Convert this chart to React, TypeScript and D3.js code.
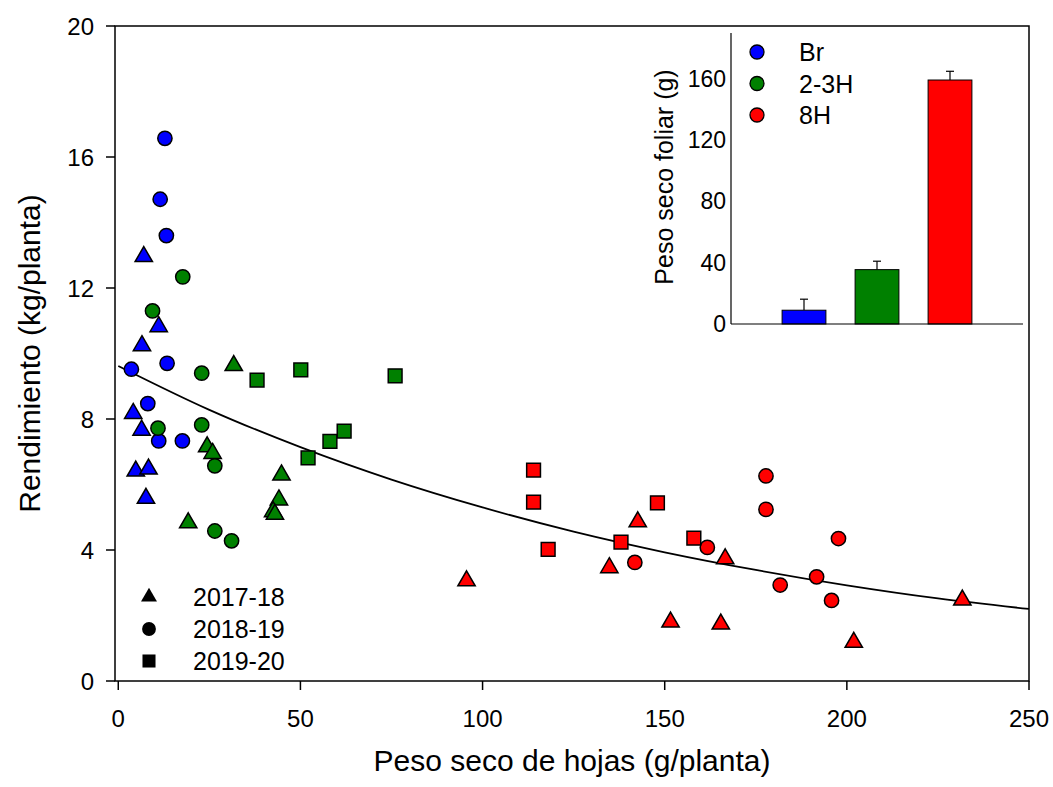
import React, { useEffect, useRef } from 'react';
import * as d3 from 'd3';

// scatter data: [peso seco de hojas, rendimiento]
const brTri = [[7.0, 12.96], [11.1, 10.82], [6.5, 10.24], [4.1, 8.17], [6.4, 7.66], [4.8, 6.41], [8.3, 6.47], [7.6, 5.58]];
const brCirc = [[12.8, 16.57], [11.5, 14.71], [13.2, 13.6], [13.4, 9.7], [3.6, 9.52], [8.1, 8.47], [11.1, 7.33], [17.6, 7.33]];
const h23Tri = [[31.7, 9.63], [24.4, 7.15], [25.9, 6.95], [44.8, 6.29], [44.1, 5.53], [42.5, 5.17], [43.0, 5.09], [19.2, 4.83]];
const h23Circ = [[17.7, 12.34], [9.4, 11.3], [22.9, 9.4], [10.9, 7.72], [22.9, 7.82], [26.5, 6.57], [26.5, 4.58], [31.1, 4.28]];
const h23Sq = [[38.1, 9.19], [50.1, 9.5], [76.0, 9.32], [62.0, 7.63], [58.1, 7.32], [52.1, 6.81]];
const h8Tri = [[95.6, 3.06], [134.8, 3.46], [142.6, 4.86], [151.6, 1.8], [165.4, 1.74], [166.6, 3.73], [201.9, 1.18], [231.7, 2.47]];
const h8Circ = [[141.8, 3.62], [161.7, 4.08], [177.8, 6.26], [177.8, 5.24], [181.7, 2.93], [191.7, 3.18], [195.8, 2.46], [197.7, 4.35]];
const h8Sq = [[114, 6.44], [114, 5.46], [118, 4.02], [138, 4.24], [148, 5.44], [158, 4.36]];

// fitted curve
const fitX = [0, 25, 50, 75, 100, 125, 150, 175, 200, 225, 250];
const fitY = [9.62, 8.28, 7.14, 6.15, 5.3, 4.56, 3.93, 3.39, 2.92, 2.52, 2.2];

const xTicks = [0, 50, 100, 150, 200, 250];
const yTicks = [0, 4, 8, 12, 16, 20];

// inset bars
const groups = ['Br', '2-3H', '8H'];
const barMeans = [9, 35.5, 159.3];
const barErr = [7.2, 5.5, 5.7];
const insetTicks = [0, 40, 80, 120, 160];
const years = ['2017-18', '2018-19', '2019-20'];

const COLORS: Record<string, string> = { Br: '#0000ff', '2-3H': '#008000', '8H': '#ff0000' };

const App: React.FC = () => {
  const svgRef = useRef<SVGSVGElement | null>(null);

  useEffect(() => {
    if (!svgRef.current) return;
    const svg = d3.select(svgRef.current);
    svg.selectAll('*').remove();
    const font = 'Liberation Sans, Arial, sans-serif';

    const x = d3.scaleLinear().domain([-0.9, 250]).range([115, 1029]);
    const y = d3.scaleLinear().domain([0, 20]).range([681, 26]);

    // frame
    svg.append('rect')
      .attr('x', x(-0.9)).attr('y', y(20))
      .attr('width', x(250) - x(-0.9)).attr('height', y(0) - y(20))
      .attr('fill', 'none').attr('stroke', '#000').attr('stroke-width', 1.5);

    // y ticks
    yTicks.forEach(t => {
      svg.append('line').attr('x1', 106).attr('x2', 115).attr('y1', y(t)).attr('y2', y(t))
        .attr('stroke', '#000').attr('stroke-width', 1.5);
      svg.append('text').attr('x', 94).attr('y', y(t) + 8.5)
        .attr('text-anchor', 'end').attr('font-family', font).attr('font-size', 24).text(t);
    });
    // x ticks
    xTicks.forEach(t => {
      svg.append('line').attr('x1', x(t)).attr('x2', x(t)).attr('y1', 681).attr('y2', 690)
        .attr('stroke', '#000').attr('stroke-width', 1.5);
      svg.append('text').attr('x', x(t)).attr('y', 727)
        .attr('text-anchor', 'middle').attr('font-family', font).attr('font-size', 24).text(t);
    });

    svg.append('text')
      .attr('x', 572).attr('y', 771)
      .attr('text-anchor', 'middle').attr('font-family', font).attr('font-size', 30)
      .text('Peso seco de hojas (g/planta)');
    svg.append('text')
      .attr('transform', `translate(40,${(y(0) + y(20)) / 2}) rotate(-90)`)
      .attr('text-anchor', 'middle').attr('font-family', font).attr('font-size', 30)
      .text('Rendimiento (kg/planta)');

    // fitted curve
    const line = d3.line<number>()
      .x((_, i) => x(fitX[i]))
      .y(d => y(d))
      .curve(d3.curveMonotoneX);
    svg.append('path').datum(fitY)
      .attr('d', line).attr('fill', 'none').attr('stroke', '#000').attr('stroke-width', 1.8);

    const tri = d3.symbol().type(d3.symbolTriangle).size(130)();
    const circ = d3.symbol().type(d3.symbolCircle).size(160)();
    const sq = d3.symbol().type(d3.symbolSquare).size(190)();

    const series = [
      { data: brTri, shape: tri, color: COLORS.Br },
      { data: brCirc, shape: circ, color: COLORS.Br },
      { data: h23Tri, shape: tri, color: COLORS['2-3H'] },
      { data: h23Circ, shape: circ, color: COLORS['2-3H'] },
      { data: h23Sq, shape: sq, color: COLORS['2-3H'] },
      { data: h8Tri, shape: tri, color: COLORS['8H'] },
      { data: h8Circ, shape: circ, color: COLORS['8H'] },
      { data: h8Sq, shape: sq, color: COLORS['8H'] },
    ];
    series.forEach(s => {
      svg.append('g').selectAll('path')
        .data(s.data)
        .join('path')
        .attr('d', s.shape)
        .attr('transform', d => `translate(${x(d[0])},${y(d[1])})`)
        .attr('fill', s.color)
        .attr('stroke', '#000')
        .attr('stroke-width', 1.5);
    });

    // year legend
    const legShapes = [
      d3.symbol().type(d3.symbolTriangle).size(110)(),
      d3.symbol().type(d3.symbolCircle).size(150)(),
      d3.symbol().type(d3.symbolSquare).size(170)(),
    ];
    years.forEach((yr, i) => {
      const cy = 597 + i * 32;
      svg.append('path').attr('d', legShapes[i]).attr('transform', `translate(149,${cy})`).attr('fill', '#000');
      svg.append('text').attr('x', 193).attr('y', cy + 9)
        .attr('font-family', font).attr('font-size', 25).text(yr);
    });

    // inset bar chart
    const bx = d3.scaleBand<string>().domain(groups).range([731, 1023]).paddingInner(0.4).paddingOuter(0.7);
    const by = d3.scaleLinear().domain([0, 190]).range([324, 33]);
    const ins = svg.append('g');

    groups.forEach((g, i) => {
      const cx = (bx(g) || 0) + bx.bandwidth() / 2;
      ins.append('line').attr('x1', cx).attr('x2', cx)
        .attr('y1', by(barMeans[i])).attr('y2', by(barMeans[i] + barErr[i]))
        .attr('stroke', '#000').attr('stroke-width', 1.2);
      ins.append('line').attr('x1', cx - 4).attr('x2', cx + 4)
        .attr('y1', by(barMeans[i] + barErr[i])).attr('y2', by(barMeans[i] + barErr[i]))
        .attr('stroke', '#000').attr('stroke-width', 1.2);
      ins.append('rect')
        .attr('x', bx(g) || 0).attr('y', by(barMeans[i]))
        .attr('width', bx.bandwidth()).attr('height', by(0) - by(barMeans[i]))
        .attr('fill', COLORS[g]).attr('stroke', '#000').attr('stroke-width', 1);
    });

    ins.append('line').attr('x1', 731).attr('x2', 731).attr('y1', by(190)).attr('y2', by(0))
      .attr('stroke', '#000').attr('stroke-width', 1.2);
    ins.append('line').attr('x1', 731).attr('x2', 1023).attr('y1', by(0)).attr('y2', by(0))
      .attr('stroke', '#000').attr('stroke-width', 1.2);

    insetTicks.forEach(t => {
      ins.append('text').attr('x', 726).attr('y', by(t) + 8)
        .attr('text-anchor', 'end').attr('font-family', font).attr('font-size', 23).text(t);
    });
    ins.append('text')
      .attr('transform', `translate(673,177) rotate(-90)`)
      .attr('text-anchor', 'middle').attr('font-family', font).attr('font-size', 25)
      .text('Peso seco foliar (g)');

    groups.forEach((g, i) => {
      const cy = 52 + i * 31.5;
      ins.append('circle').attr('cx', 757).attr('cy', cy).attr('r', 7)
        .attr('fill', COLORS[g]).attr('stroke', '#000').attr('stroke-width', 1.3);
      ins.append('text').attr('x', 799).attr('y', cy + 9)
        .attr('font-family', font).attr('font-size', 25).text(g);
    });
  }, []);

  return (
    <svg ref={svgRef} width={1053} height={787}
      style={{ position: 'absolute', left: 0, top: 0, background: '#fff' }} />
  );
};

export default App;
